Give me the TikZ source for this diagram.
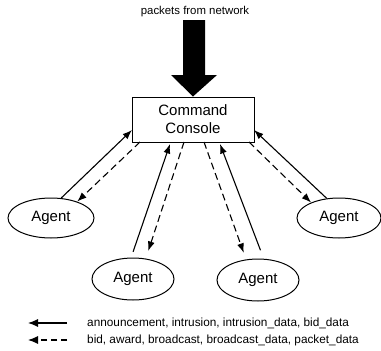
\documentclass[tikz,border=0pt]{standalone}
\usepackage{fontspec}
\setmainfont{Liberation Sans}
\usetikzlibrary{arrows.meta,shapes.geometric}
\begin{document}
\begin{tikzpicture}[x=1pt,y=-1pt,
  agent/.style={draw,ellipse,line width=1pt,minimum width=84pt,minimum height=41pt,inner sep=0pt,font=\fontsize{15}{17}\selectfont},
  msg/.style={line width=1.1pt,-{Latex[length=9.5pt,width=7pt]}},
  ctl/.style={msg,dash pattern=on 7pt off 4pt},
  legmsg/.style={line width=1.1pt,-{Latex[length=10pt,width=8pt]}},
  legctl/.style={legmsg,dash pattern=on 6pt off 4pt},
  legtext/.style={anchor=west,inner sep=0pt,font=\fontsize{11.8}{13}\selectfont}]
\useasboundingbox (0,0) rectangle (381,351);
% top label and thick arrow
\node[font=\fontsize{11.4}{13}\selectfont] (pk) at (195,12) {packets from network};
\node[draw,line width=1pt,minimum width=122pt,minimum height=45pt,inner sep=0pt,align=center,font=\fontsize{15}{18}\selectfont] (con) at (193,119.5) {Command\\Console};
\fill (183,20) -- (205,20) -- (205,75) -- (217,75) -- (con.north) -- (171,75) -- (183,75) -- cycle;
% agents
\node[agent,minimum width=86pt,minimum height=40pt] (a1) at (51,218) {Agent};
\node[agent,minimum width=82pt,minimum height=42pt] (a2) at (133,279) {Agent};
\node[agent,minimum width=82pt,minimum height=42pt] (a3) at (258,280) {Agent};
\node[agent,minimum width=84pt,minimum height=40pt] (a4) at (339,218) {Agent};
% console border points
\coordinate (t1) at (132,130);
\coordinate (s1) at (140,142);
\coordinate (t2) at (170,144);
\coordinate (s2) at (184,142);
\coordinate (s3) at (204,142);
\coordinate (t3) at (220,144);
\coordinate (s4) at (249,142);
\coordinate (t4) at (254,130);
% connectors
\draw[msg] (a1.63) -- (t1);
\draw[ctl] (s1) -- (a1.32);
\draw[msg,shorten <=6pt] (a2.95) -- (t2);
\draw[ctl,shorten >=8pt] (s2) -- (a2.58);
\draw[ctl,shorten >=7pt] (s3) -- (a3.120);
\draw[msg,shorten <=9pt] (a3.75) -- (t3);
\draw[ctl] (s4) -- (a4.151);
\draw[msg] (a4.122) -- (t4);
% legend
\coordinate (l1a) at (28,323); \coordinate (l1b) at (67,323);
\coordinate (l2a) at (28,340); \coordinate (l2b) at (67,340);
\draw[legmsg] (l1b) -- (l1a);
\draw[legctl] (l2b) -- (l2a);
\node[legtext] (lt1) at (87,323) {announcement, intrusion, intrusion\_data, bid\_data};
\node[legtext] (lt2) at (87,340) {bid, award, broadcast, broadcast\_data, packet\_data};
\end{tikzpicture}
\end{document}
